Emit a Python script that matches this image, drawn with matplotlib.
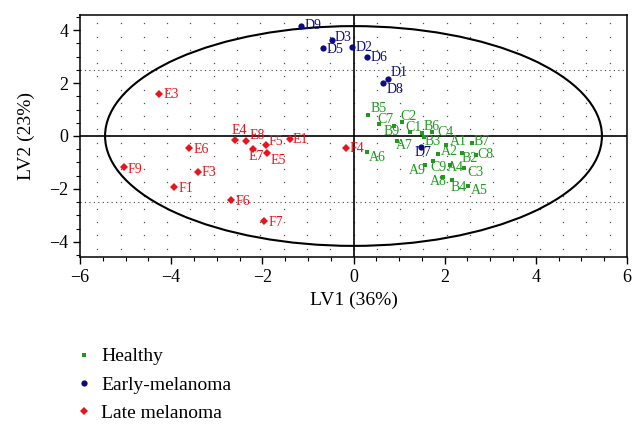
import numpy as np
import matplotlib
matplotlib.use("Agg")
import matplotlib.pyplot as plt
from matplotlib.patches import Ellipse

plt.rcParams['font.family'] = ['Liberation Serif', 'DejaVu Serif']

# scores: (LV1, LV2)
healthy_names = ['B5', 'C7', 'C2', 'B9', 'C1', 'B6', 'B3', 'C4', 'A1', 'B7', 'A7',
                 'A6', 'A2', 'B2', 'C8', 'C9', 'A9', 'A4', 'C3', 'A8', 'B4', 'A5']
healthy_x = [0.32, 0.56, 1.07, 0.88, 1.24, 1.50, 1.54, 1.73, 2.03, 2.59, 0.96,
             0.29, 1.85, 2.37, 2.68, 1.75, 1.57, 2.12, 2.43, 1.96, 2.16, 2.52]
healthy_y = [0.78, 0.44, 0.51, 0.37, 0.15, 0.11, -0.02, 0.14, -0.35, -0.25, -0.19,
             -0.61, -0.68, -0.65, -0.70, -0.94, -1.11, -1.08, -1.20, -1.54, -1.67, -1.89]

early_names = ['D9', 'D3', 'D5', 'D2', 'D6', 'D1', 'D8', 'D7']
early_x = [-1.15, -0.48, -0.66, -0.04, 0.29, 0.75, 0.65, 1.49]
early_y = [4.16, 3.63, 3.32, 3.36, 2.98, 2.15, 2.00, -0.41]

late_names = ['E3', 'E6', 'F9', 'F3', 'F1', 'E4', 'E8', 'F5', 'E1', 'E7',
              'E5', 'F4', 'F6', 'F7']
late_x = [-4.26, -3.60, -5.04, -3.41, -3.93, -2.59, -2.35, -1.93, -1.40, -2.20,
          -1.90, -0.16, -2.68, -1.96]
late_y = [1.57, -0.46, -1.18, -1.36, -1.94, -0.15, -0.18, -0.33, -0.11, -0.48,
          -0.65, -0.46, -2.43, -3.20]

# label offsets in points (left edge, vertical centre of text)
offsets = {
    'B5': (1.7, 5), 'C7': (-1, 3.6), 'C2': (-1.7, 4.6), 'B9': (-7, -3.6),
    'C1': (-3.6, 3.4), 'B6': (1.2, 5.0), 'C4': (3.5, -0.5), 'B3': (0.7, -3.6),
    'A1': (2.4, 2.9), 'B7': (1.4, 1), 'A7': (-0.7, -2.9), 'A6': (1.4, -4.1),
    'A2': (1.9, 1.7), 'B2': (0.2, -3.6), 'C8': (1.2, 0.2), 'C9': (-1.9, -5),
    'A9': (-11.5, -3.4), 'A4': (-2.4, -2.4), 'C3': (1.9, -3.4), 'A8': (-9.1, -3.4),
    'B4': (-0.7, -5.3), 'A5': (1.7, -2.9),
    'D9': (2.4, 0.5), 'D3': (2.4, 1.8), 'D5': (2.4, -1), 'D2': (2.9, -0.5),
    'D6': (2.4, -0.5), 'D1': (1.9, 4.8), 'D8': (2.4, -4.3), 'D7': (-5, -3.8),
    'E3': (2.9, 0), 'E6': (3.1, -0.7), 'F9': (2.9, -1.4), 'F3': (2.6, -0.5),
    'F1': (2.9, -0.7), 'E4': (-2.9, 6.5), 'E8': (2.2, 3.6), 'F5': (1.9, 2.6),
    'E1': (2.4, -0.5), 'E7': (-3.1, -5.8), 'E5': (2.6, -5.5), 'F4': (2.4, -0.5),
    'F6': (2.9, -0.5), 'F7': (2.9, -1.2),
}

GREEN = '#1f9a1f'
BLUE = '#0c0c80'
RED = '#e8141c'

fig = plt.figure(figsize=(6.44, 4.32), dpi=100)
ax = fig.add_axes([80 / 644, 1 - 257 / 432, 547 / 644, 242 / 432])

# faint dot grid
gx = np.arange(-11, 12) * 0.511
gy = np.arange(-9, 9) * 0.5 + 0.25
GX, GY = np.meshgrid(gx, gy)
ax.plot(GX.ravel(), GY.ravel(), ls='none', marker='s', ms=0.9, mew=0,
        color='#555555', zorder=0)
for yy in (-2.5, 2.5):
    ax.axhline(yy, color='#444444', lw=0.8, ls=(0, (1, 3)), zorder=0)

ax.axhline(0, color='black', lw=1.2, zorder=1)
ax.axvline(0, color='black', lw=1.2, zorder=1)
ax.add_patch(Ellipse((0, 0), 2 * 5.45, 2 * 4.15, fill=False, ec='black', lw=1.5, zorder=1))

groups = [
    (healthy_names, healthy_x, healthy_y, GREEN, 's', 3.0, 'Healthy'),
    (early_names, early_x, early_y, BLUE, 'o', 4.5, 'Early-melanoma'),
    (late_names, late_x, late_y, RED, 'D', 3.6, 'Late melanoma'),
]
handles = []
for names, xs, ys, col, mk, ms, lab in groups:
    h, = ax.plot(xs, ys, ls='none', marker=mk, ms=ms, color=col, mew=0, label=lab, zorder=3)
    handles.append(h)
    for n, x, y in zip(names, xs, ys):
        dx, dy = offsets.get(n, (2.5, 0))
        ax.annotate(n, (x, y), xytext=(dx, dy), textcoords='offset points',
                    ha='left', va='center', fontsize=10, color=col, zorder=4)

ax.set_xlim(-6, 6)
ax.set_ylim(-4.57, 4.57)
ax.set_xticks(np.arange(-6, 7, 2))
ax.set_yticks(np.arange(-4, 5, 2))
ax.set_xticks(np.arange(-6, 6.01, 0.5), minor=True)
ax.set_yticks(np.arange(-4.5, 4.51, 0.5), minor=True)
ax.set_xticklabels(['\u22126', '\u22124', '\u22122', '0', '2', '4', '6'])
ax.set_yticklabels(['\u22124', '\u22122', '0', '2', '4'])
ax.tick_params(which='major', direction='out', length=5, width=1, labelsize=13)
ax.tick_params(which='minor', direction='out', length=3, width=0.8)
for s in ax.spines.values():
    s.set_linewidth(1.1)
ax.set_xlabel('LV1 (36%)', fontsize=14, labelpad=4)
ax.set_ylabel('LV2 (23%)', fontsize=14, labelpad=10)

fig.legend(handles=handles, loc='upper left', bbox_to_anchor=(66 / 644, 1 - 338 / 432),
           frameon=False, fontsize=14, handlelength=0.8, handletextpad=0.5,
           labelspacing=0.55, markerscale=1.0, borderpad=0)

fig.savefig('out.png', dpi=100)
